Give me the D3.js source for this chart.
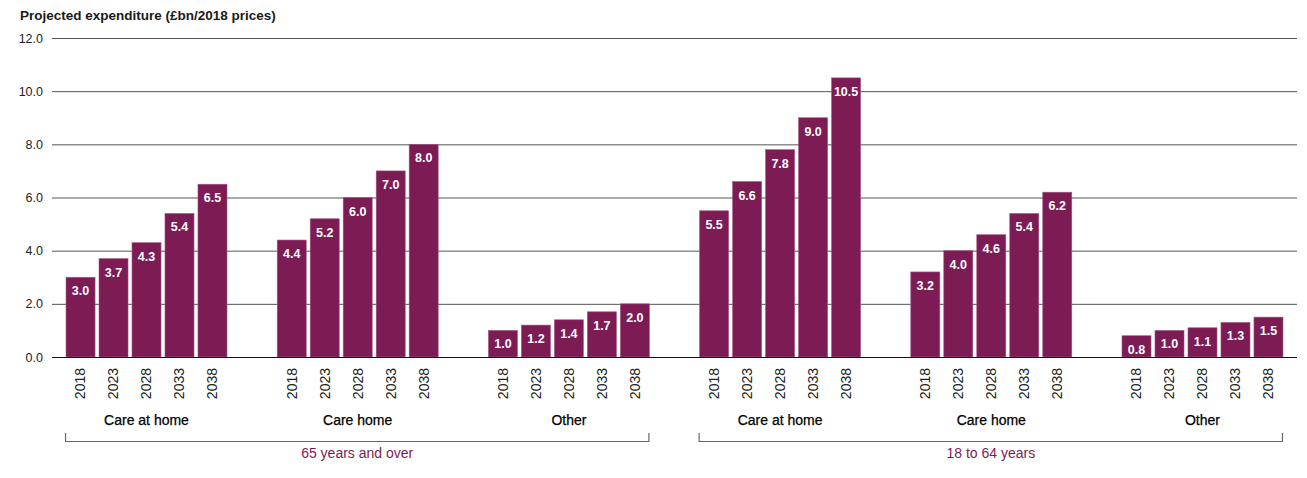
<!DOCTYPE html>
<html>
<head>
<meta charset="utf-8">
<script src="https://cdn.jsdelivr.net/npm/d3@7"></script>
<style>
  body { margin: 0; background: #fff; }
  svg text { font-family: "Liberation Sans", Arial, sans-serif; }
</style>
</head>
<body>
<svg id="chart" width="1307" height="478"></svg>
<script>
// chart data
const years = ['2018', '2023', '2028', '2033', '2038']
const categories = ['Care at home', 'Care home', 'Other']
const ageBands = ['65 years and over', '18 to 64 years']
const over65 = [
    [3.0, 3.7, 4.3, 5.4, 6.5],
    [4.4, 5.2, 6.0, 7.0, 8.0],
    [1.0, 1.2, 1.4, 1.7, 2.0]
]
const age18to64 = [
    [5.5, 6.6, 7.8, 9.0, 10.5],
    [3.2, 4.0, 4.6, 5.4, 6.2],
    [0.8, 1.0, 1.1, 1.3, 1.5]
]
const yTicks = [0, 2, 4, 6, 8, 10, 12]

let groups = []
ageBands.forEach((band, b) => {
    let series = b == 0 ? over65 : age18to64
    categories.forEach((cat, c) => {
        groups.push({ id: b + '-' + c, band: band, cat: cat, values: series[c] })
    })
})

let svg = d3.select('#chart')
let plotLeft = 52
let plotRight = 1297
let plotTop = 38
let plotBottom = 357
let barColor = '#7d1b55'

let x = d3.scaleBand()
    .domain(groups.map(g => g.id))
    .range([plotLeft, plotRight])
    .paddingInner(0.219)
    .paddingOuter(0.057)

let xInner = d3.scaleBand()
    .domain(years)
    .range([0, x.bandwidth()])
    .paddingInner(0.12)
    .paddingOuter(0.06)

let y = d3.scaleLinear()
    .domain([0, 12])
    .range([plotBottom, plotTop])

// title
svg.append('text')
    .attr('x', 20)
    .attr('y', 20)
    .attr('font-size', '13.5px')
    .attr('font-weight', 'bold')
    .attr('fill', '#1a1a1a')
    .text('Projected expenditure (£bn/2018 prices)')

// y axis + gridlines
let yAxis = svg.append('g')
    .attr('transform', `translate(${plotLeft},0)`)
    .call(d3.axisLeft(y)
        .tickValues(yTicks)
        .tickFormat(d3.format('.1f'))
        .tickSizeInner(-(plotRight - plotLeft))
        .tickSizeOuter(0)
        .tickPadding(9))
yAxis.select('.domain').remove()
yAxis.selectAll('line')
    .attr('stroke', d => d == 0 ? '#111' : '#555')
    .attr('stroke-width', 1)
yAxis.selectAll('text')
    .attr('font-size', '12.5px')
    .attr('fill', '#222')

// bars
let groupG = svg.append('g')
    .selectAll('g')
    .data(groups)
    .enter()
    .append('g')
    .attr('transform', g => `translate(${x(g.id)},0)`)

groupG.selectAll('rect')
    .data(g => g.values.map((v, i) => ({ year: years[i], value: v })))
    .enter()
    .append('rect')
    .attr('x', d => xInner(d.year))
    .attr('y', d => y(d.value))
    .attr('width', xInner.bandwidth())
    .attr('height', d => plotBottom - y(d.value))
    .attr('fill', barColor)
    .attr('stroke', '#a35a82')
    .attr('stroke-width', 0.6)

groupG.selectAll('.val')
    .data(g => g.values.map((v, i) => ({ year: years[i], value: v })))
    .enter()
    .append('text')
    .attr('class', 'val')
    .attr('x', d => xInner(d.year) + xInner.bandwidth() / 2)
    .attr('y', d => y(d.value) + 18)
    .attr('text-anchor', 'middle')
    .attr('font-size', '12.5px')
    .attr('font-weight', 'bold')
    .attr('fill', '#fff')
    .text(d => d3.format('.1f')(d.value))

// baseline over the bars
svg.append('line')
    .attr('x1', plotLeft)
    .attr('x2', plotRight)
    .attr('y1', plotBottom + 0.5)
    .attr('y2', plotBottom + 0.5)
    .attr('stroke', '#111')

// year labels
groupG.each(function (g) {
    let ax = d3.select(this).append('g')
        .attr('transform', `translate(0,${plotBottom})`)
        .call(d3.axisBottom(xInner).tickSize(0).tickPadding(0))
    ax.select('.domain').remove()
    ax.selectAll('text')
        .attr('transform', 'translate(0,11) rotate(-90)')
        .attr('x', 0)
        .attr('y', 0)
        .attr('dy', '0.35em')
        .attr('text-anchor', 'end')
        .attr('font-size', '14px')
        .attr('fill', '#222')
        .attr('font-family', '"Liberation Sans", Arial, sans-serif')
})

// category labels
groupG.append('text')
    .attr('x', x.bandwidth() / 2)
    .attr('y', 425)
    .attr('text-anchor', 'middle')
    .attr('font-size', '14px')
    .attr('fill', '#000')
    .attr('stroke', '#000')
    .attr('stroke-width', 0.25)
    .text(g => g.cat)

// brackets for age bands
ageBands.forEach((band, b) => {
    let first = groups[b * 3]
    let last = groups[b * 3 + 2]
    let x1 = x(first.id) + xInner(years[0]) - 1
    let x2 = x(last.id) + xInner(years[years.length - 1]) + xInner.bandwidth()
    svg.append('path')
        .attr('d', `M${x1 + 0.5},433 V441.5 H${x2 - 0.5} V433`)
        .attr('fill', 'none')
        .attr('stroke', '#666')
        .attr('stroke-width', 1.2)
    svg.append('text')
        .attr('x', (x1 + x2) / 2)
        .attr('y', 458)
        .attr('text-anchor', 'middle')
        .attr('font-size', '14px')
        .attr('fill', barColor)
        .text(band)
})
</script>
</body>
</html>
